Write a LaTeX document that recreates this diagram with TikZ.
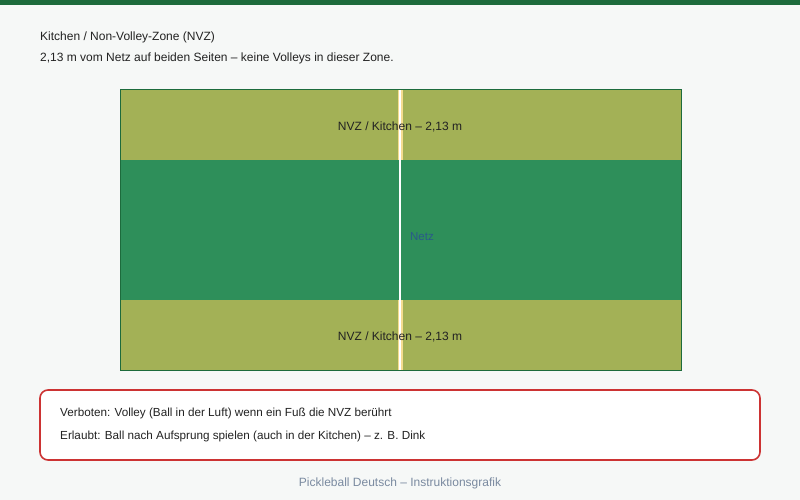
\documentclass[tikz,border=0pt]{standalone}
\usepackage{fontspec}
\setmainfont{Liberation Sans}
\definecolor{bg}{HTML}{F6F8F7}
\definecolor{topbar}{HTML}{1D6B3C}
\definecolor{kitchen}{HTML}{A3B156}
\definecolor{midcourt}{HTML}{2E8F5A}
\definecolor{courtedge}{HTML}{1D6B3C}
\definecolor{lineyel}{HTML}{F5DC90}
\definecolor{netblue}{HTML}{2A5A8A}
\definecolor{boxred}{HTML}{CC3333}
\definecolor{footgray}{HTML}{7A8AA0}
\definecolor{textdark}{HTML}{222222}
\tikzset{
  heading/.style={anchor=west, text=textdark, font=\fontsize{12}{15}\selectfont, inner sep=0pt},
  zonelabel/.style={text=textdark, font=\fontsize{12}{14}\selectfont, inner sep=0pt},
  ruletext/.style={anchor=west, text=textdark, font=\fontsize{11.7}{14}\selectfont, inner sep=0pt},
}
\begin{document}
\begin{tikzpicture}[x=1pt,y=-1pt]
\fill[bg] (0,0) rectangle (800,500);
\useasboundingbox (0,0) rectangle (800,500);
\fill[topbar] (0,0) rectangle (800,5);
\node[heading] (h1) at (40,37) {Kitchen / Non-Volley-Zone (NVZ)};
\node[heading] (h2) at (40,58) {2,13 m vom Netz auf beiden Seiten – keine Volleys in dieser Zone.};
% court
\fill[midcourt] (120,160) rectangle (681,300);
\fill[kitchen] (120,90) rectangle (681,160);
\fill[kitchen] (120,300) rectangle (681,370);
\fill[lineyel] (397.5,90) rectangle (402.5,160);
\fill[lineyel] (397.5,300) rectangle (402.5,370);
\fill[white] (399,90) rectangle (401,370);
\draw[courtedge, line width=1pt] (120,90) rectangle (681,370);
\node[zonelabel] (z1) at (400,127) {NVZ / Kitchen – 2,13 m};
\node[zonelabel] (z2) at (400,337) {NVZ / Kitchen – 2,13 m};
\node[zonelabel, text=netblue, font=\fontsize{11.5}{13}\selectfont] (netz) at (422,237) {Netz};
% rules box
\draw[boxred, line width=1.6pt, fill=white, rounded corners=8pt] (40,390) rectangle (760,460);
\node[ruletext] (r1) at (60,413) {Verboten: Volley (Ball in der Luft) wenn ein Fuß die NVZ berührt};
\node[ruletext] (r2) at (60,436) {Erlaubt: Ball nach Aufsprung spielen (auch in der Kitchen) – z. B. Dink};
\node[zonelabel, text=footgray] (foot) at (400,483) {Pickleball Deutsch – Instruktionsgrafik};
\end{tikzpicture}
\end{document}
